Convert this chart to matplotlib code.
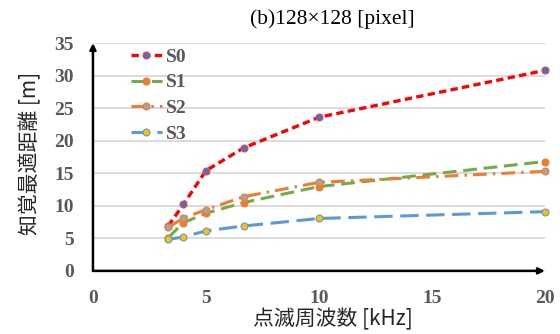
import matplotlib
matplotlib.use("Agg")
import matplotlib.pyplot as plt

freq_khz = [3.33, 4, 5, 6.67, 10, 20]
s0 = [6.9, 10.2, 15.4, 18.9, 23.6, 30.8]
s1 = [5.1, 7.4, 8.85, 10.5, 12.95, 16.8]
s2 = [6.7, 8.1, 9.4, 11.4, 13.6, 15.3]
s3 = [4.85, 5.2, 6.15, 6.9, 8.05, 9.1]
series_names = ["S0", "S1", "S2", "S3"]
x_ticks = [0, 5, 10, 15, 20]
y_ticks = [0, 5, 10, 15, 20, 25, 30, 35]
title = "(b)128×128 [pixel]"
xlabel = "点滅周波数 [kHz]"
ylabel = "知覚最適距離 [m]"

fig = plt.figure(figsize=(5.6, 3.34), dpi=100)
ax = fig.add_axes([0.166, 0.189, 0.807, 0.682])

styles = [
    dict(color="#FF0000", ls=(0, (2.2, 1.3)), mfc="#4472C4", mec="#FF4040", lw=2.4),
    dict(color="#70AD47", ls=(0, (4.5, 2.2)), mfc="#ED7D31", mec="#ED7D31", lw=2.2),
    dict(color="#ED7D31", ls=(0, (4.5, 2, 0.8, 2)), mfc="#A5A5A5", mec="#ED7D31", lw=2.2),
    dict(color="#5B9BD5", ls=(0, (6, 2.5)), mfc="#FFC000", mec="#5B9BD5", lw=2.2),
]
for name, vals, st in zip(series_names, [s0, s1, s2, s3], styles):
    ax.plot(freq_khz, vals, color=st["color"], linestyle=st["ls"], lw=st["lw"],
            marker="o", markersize=5, markerfacecolor=st["mfc"],
            markeredgecolor=st["mec"], markeredgewidth=0.8, label=name,
            clip_on=False, zorder=3)

ax.set_xlim(0, 20)
ax.set_ylim(0, 35)
ax.set_xticks(x_ticks)
ax.set_yticks(y_ticks)
ax.yaxis.grid(True, color="#D9D9D9", lw=1.3)
ax.set_axisbelow(True)
for s in ax.spines.values():
    s.set_visible(False)
ax.tick_params(length=0, labelsize=14, labelcolor="#595959")
ax.tick_params(axis="x", pad=14)
ax.tick_params(axis="y", pad=14)
for lab in ax.get_xticklabels() + ax.get_yticklabels():
    lab.set_fontfamily("Liberation Serif")
    lab.set_fontweight("bold")

ax.annotate("", xy=(0, 1.0), xytext=(0, 0), xycoords="axes fraction",
            arrowprops=dict(arrowstyle="-|>", color="black", lw=1.8,
                            mutation_scale=9, shrinkA=0, shrinkB=0))
ax.annotate("", xy=(1.0, 0), xytext=(0, 0), xycoords="axes fraction",
            arrowprops=dict(arrowstyle="-|>", color="black", lw=1.8,
                            mutation_scale=9, shrinkA=0, shrinkB=0))

fig.text(0.594, 0.944, title, ha="center", va="center", fontsize=15.5,
         family=["Liberation Serif", "DejaVu Serif"], color="black")
fig.text(0.595, 0.045, xlabel, ha="center", va="center", fontsize=15,
         family=["Noto Sans CJK JP", "DejaVu Sans"], color="#262626")
fig.text(0.054, 0.542, ylabel, ha="center", va="center", fontsize=15, rotation=90,
         family=["Noto Sans CJK JP", "DejaVu Sans"], color="#262626")

leg = ax.legend(loc="upper left", bbox_to_anchor=(0.045, 1.055), frameon=False,
                prop=dict(family="Liberation Serif", weight="bold", size=14),
                handlelength=1.6, handletextpad=0.2, labelspacing=0.42)
for t in leg.get_texts():
    t.set_color("#595959")

fig.savefig("out.png", dpi=100)
